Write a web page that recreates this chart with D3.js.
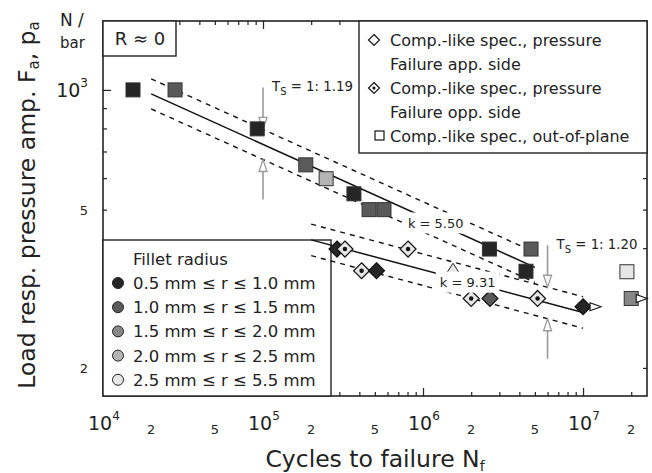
<!doctype html>
<html lang="en">
<head>
<meta charset="utf-8">
<title>S-N diagram</title>
<script src="https://d3js.org/d3.v7.min.js"></script>
<style>
  body { margin: 0; background: #fff; }
  text { font-family: 'DejaVu Sans', sans-serif; fill: #222; }
</style>
</head>
<body>
<div id="chart"></div>
<script>
// fillet radius classes and their grey levels
var filletLabels = ['0.5 mm \u2264 r \u2264 1.0 mm', '1.0 mm \u2264 r \u2264 1.5 mm', '1.5 mm \u2264 r \u2264 2.0 mm',
                    '2.0 mm \u2264 r \u2264 2.5 mm', '2.5 mm \u2264 r \u2264 5.5 mm'];
var filletColors = ['#262626', '#5a5a5a', '#878787', '#b4b4b4', '#e6e6e6'];

// out-of-plane specimens (squares): cycles, amplitude in N, fillet class, runout
var sqN      = [1.54e4, 2.82e4, 9.2e4, 1.85e5, 2.48e5, 3.7e5, 4.6e5, 5.7e5, 2.6e6, 4.4e6, 4.73e6, 1.88e7, 2.0e7];
var sqF      = [1000, 1000, 798, 648, 598, 548, 500, 500, 398, 350, 398, 349, 299];
var sqClass  = [0, 1, 0, 1, 3, 0, 1, 1, 0, 0, 1, 4, 2];
var sqRunout = [0, 0, 0, 0, 0, 0, 0, 0, 0, 0, 0, 0, 1];

// pressure specimens (diamonds): cycles, amplitude in bar, class, failure opposite side, runout
var diaN      = [2.9e5, 3.25e5, 8.06e5, 4.13e5, 5.12e5, 2.0e6, 2.62e6, 5.2e6, 1.0e7];
var diaP      = [398, 398, 398, 351, 351, 299, 299, 299, 285];
var diaClass  = [0, 4, 4, 4, 0, 4, 1, 4, 0];
var diaOpp    = [0, 1, 1, 1, 0, 1, 0, 1, 0];
var diaRunout = [0, 0, 0, 0, 0, 0, 0, 0, 1];

// single triangle specimen
var triN = [1.54e6], triP = [350], triClass = [4];

// S-N curves: slope k, reference point, range of validity, scatter T_S
var curveK    = [5.50, 9.31];
var curveRefN = [2e4, 1.42e6];
var curveRefF = [977, 340];
var curveFrom = [2e4, 2e5];
var curveTo   = [5e6, 1e7];
var curveTs   = [1.19, 1.20];
var arrowN    = [1e5, 6e6];
var kLabelN   = [1.2e6, 1.9e6];

var xMajor = [1e4, 1e5, 1e6, 1e7];
var xMinorLabels = [2e4, 5e4, 2e5, 5e5, 2e6, 5e6, 2e7];

var width = 652, height = 473;
var L = 103, R = 647, T = 21, B = 396;

var svg = d3.select('#chart').append('svg')
    .attr('width', width).attr('height', height);

var x = d3.scaleLog().domain([1e4, 2.51e7]).range([L, R]);
var y = d3.scaleLog().domain([170, 1490]).range([B, T]);

var xMinor = [];
[1e4, 1e5, 1e6, 1e7].forEach(function(d) {
  for (var i = 2; i <= 9; i++) if (d * i < 2.51e7) xMinor.push(d * i);
});
var yMinor = [200, 300, 400, 500, 600, 700, 800, 900];

// inward ticks on all four sides
function ticks(axis, vals, size, tr) {
  svg.append('g').attr('transform', tr)
    .call(axis.tickValues(vals).tickSize(-size).tickFormat(''))
    .call(function(g) { g.select('.domain').remove(); g.selectAll('line').attr('stroke', '#222').attr('stroke-width', 1.2); });
}
ticks(d3.axisBottom(x), xMajor, 8, 'translate(0,' + B + ')');
ticks(d3.axisBottom(x), xMinor, 4, 'translate(0,' + B + ')');
ticks(d3.axisTop(x), xMajor, 8, 'translate(0,' + T + ')');
ticks(d3.axisTop(x), xMinor, 4, 'translate(0,' + T + ')');
ticks(d3.axisLeft(y), [1000], 8, 'translate(' + L + ',0)');
ticks(d3.axisLeft(y), yMinor, 4, 'translate(' + L + ',0)');
ticks(d3.axisRight(y), [1000], 8, 'translate(' + R + ',0)');
ticks(d3.axisRight(y), yMinor, 4, 'translate(' + R + ',0)');

svg.append('rect').attr('x', L).attr('y', T).attr('width', R - L).attr('height', B - T)
  .attr('fill', 'none').attr('stroke', '#222').attr('stroke-width', 1.6);

// tick labels
xMajor.forEach(function(d) {
  var t = svg.append('text').attr('x', x(d) - 15).attr('y', 430).style('font-size', '19px');
  t.append('tspan').text('10');
  t.append('tspan').attr('dy', -10).style('font-size', '12px').text(Math.round(Math.log10(d)));
});
xMinorLabels.forEach(function(d) {
  svg.append('text').attr('x', x(d)).attr('y', 434).attr('text-anchor', 'middle')
    .style('font-size', '13px').text(String(d).charAt(0));
});
var ty = svg.append('text').attr('x', 88).attr('y', y(1000) + 7).attr('text-anchor', 'end').style('font-size', '19px');
ty.append('tspan').text('10');
ty.append('tspan').attr('dy', -10).style('font-size', '12px').text('3');
[500, 200].forEach(function(d) {
  svg.append('text').attr('x', 88).attr('y', y(d) + 5).attr('text-anchor', 'end')
    .style('font-size', '13px').text(String(d).charAt(0));
});

// axis titles
var xt = svg.append('text').attr('x', 375).attr('y', 467).attr('text-anchor', 'middle').style('font-size', '23.5px');
xt.append('tspan').text('Cycles to failure N');
xt.append('tspan').attr('dy', 4).style('font-size', '14px').text('f');

var yt = svg.append('text').attr('transform', 'translate(35,205) rotate(-90)')
  .attr('text-anchor', 'middle').style('font-size', '23.5px');
yt.append('tspan').text('Load resp. pressure amp. F');
yt.append('tspan').attr('dy', 4).style('font-size', '15px').text('a');
yt.append('tspan').attr('dy', -4).text(', p');
yt.append('tspan').attr('dy', 4).style('font-size', '15px').text('a');

svg.append('text').attr('x', 60).attr('y', 26).style('font-size', '17px').text('N /');
svg.append('text').attr('x', 60).attr('y', 48).style('font-size', '15px').text('bar');

// R = 0 box
svg.append('rect').attr('x', L).attr('y', T).attr('width', 73).attr('height', 35)
  .attr('fill', '#fff').attr('stroke', '#222').attr('stroke-width', 1.4);
svg.append('text').attr('x', 140).attr('y', 45).attr('text-anchor', 'middle')
  .style('font-size', '18px').text('R \u2248 0');

// specimen type legend
svg.append('rect').attr('x', 359).attr('y', T).attr('width', R - 359).attr('height', 132)
  .attr('fill', '#fff').attr('stroke', '#222').attr('stroke-width', 1.4);
var legLines = ['Comp.-like spec., pressure', 'Failure app. side', 'Comp.-like spec., pressure',
                'Failure opp. side', 'Comp.-like spec., out-of-plane'];
legLines.forEach(function(s, i) {
  svg.append('text').attr('x', 390).attr('y', 46 + i * 24).style('font-size', '16px').text(s);
});

// fillet legend
svg.append('rect').attr('x', L).attr('y', 240).attr('width', 228).attr('height', B - 240)
  .attr('fill', '#fff').attr('stroke', '#222').attr('stroke-width', 1.4);
svg.append('text').attr('x', 133).attr('y', 265).style('font-size', '16.5px').text('Fillet radius');
filletLabels.forEach(function(s, i) {
  var cy = 283 + i * 24.2;
  svg.append('circle').attr('cx', 118).attr('cy', cy).attr('r', 5.5)
    .attr('fill', filletColors[i]).attr('stroke', '#222').attr('stroke-width', 1);
  svg.append('text').attr('x', 133).attr('y', cy + 6).style('font-size', '16.5px').text(s);
});

// legend symbols
function diamond(g, cx, cy, r, fill, dot) {
  g.append('path').attr('d', 'M' + cx + ',' + (cy - r) + 'L' + (cx + r) + ',' + cy + 'L' + cx + ',' + (cy + r) + 'L' + (cx - r) + ',' + cy + 'Z')
    .attr('fill', fill).attr('stroke', '#111').attr('stroke-width', 1.2);
  if (dot) g.append('circle').attr('cx', cx).attr('cy', cy).attr('r', r * 0.28).attr('fill', '#111');
}
diamond(svg, 374, 40, 5.5, '#fff', false);
diamond(svg, 374, 88, 5.5, '#fff', true);
svg.append('rect').attr('x', 375).attr('y', 131).attr('width', 9).attr('height', 9)
  .attr('fill', '#fff').attr('stroke', '#111').attr('stroke-width', 1.2);

// S-N lines with scatter bands
var line = d3.line().x(function(d) { return x(d[0]); }).y(function(d) { return y(d[1]); });
function curveF(i, n, f) { return f * curveRefF[i] * Math.pow(n / curveRefN[i], -1 / curveK[i]); }
curveK.forEach(function(k, i) {
  var s = Math.sqrt(curveTs[i]);
  [[1, null], [s, '5,5'], [1 / s, '5,5']].forEach(function(b) {
    svg.append('path')
      .datum([curveFrom[i], curveTo[i]].map(function(n) { return [n, curveF(i, n, b[0])]; }))
      .attr('d', line).attr('fill', 'none').attr('stroke', '#111')
      .attr('stroke-width', b[1] ? 1.4 : 1.5).attr('stroke-dasharray', b[1]);
  });
  // scatter arrows
  var ax = x(arrowN[i]);
  var yUp = y(curveF(i, arrowN[i], s)), yLo = y(curveF(i, arrowN[i], 1 / s));
  [[yUp - 42, yUp], [yLo + 40, yLo]].forEach(function(a) {
    var dir = a[1] > a[0] ? 1 : -1;
    svg.append('line').attr('x1', ax).attr('x2', ax).attr('y1', a[0]).attr('y2', a[1] - dir * 11)
      .attr('stroke', '#9a9a9a').attr('stroke-width', 1.6);
    svg.append('path').attr('d', 'M' + (ax - 4) + ',' + (a[1] - dir * 12) + 'L' + (ax + 4) + ',' + (a[1] - dir * 12) + 'L' + ax + ',' + a[1] + 'Z')
      .attr('fill', '#fff').attr('stroke', '#9a9a9a').attr('stroke-width', 1.3);
  });
  var tl = svg.append('text').attr('x', ax + 9).attr('y', yUp - 38).style('font-size', '13.3px');
  tl.append('tspan').text('T');
  tl.append('tspan').attr('dy', 4).style('font-size', '10px').text('S');
  tl.append('tspan').attr('dy', -4).text(' = 1: ' + curveTs[i].toFixed(2));
});

// markers
function runoutArrow(cx, cy) {
  svg.append('path').attr('d', 'M' + cx + ',' + (cy - 4) + 'L' + (cx + 11) + ',' + cy + 'L' + cx + ',' + (cy + 4) + 'Z')
    .attr('fill', '#fff').attr('stroke', '#111').attr('stroke-width', 1.1);
}
sqN.forEach(function(n, i) {
  var cx = x(n), cy = y(sqF[i]);
  svg.append('rect').attr('x', cx - 7).attr('y', cy - 7).attr('width', 14).attr('height', 14)
    .attr('fill', filletColors[sqClass[i]]).attr('stroke', '#333').attr('stroke-width', 1);
  if (sqRunout[i]) runoutArrow(cx + 5, cy);
});
diaN.forEach(function(n, i) {
  var cx = x(n), cy = y(diaP[i]);
  diamond(svg, cx, cy, 8, filletColors[diaClass[i]], diaOpp[i]);
  if (diaRunout[i]) runoutArrow(cx + 7, cy);
});
triN.forEach(function(n, i) {
  var cx = x(n), cy = y(triP[i]);
  svg.append('path').attr('d', 'M' + cx + ',' + (cy - 8) + 'L' + (cx + 9) + ',' + (cy + 6) + 'L' + (cx - 9) + ',' + (cy + 6) + 'Z')
    .attr('fill', filletColors[triClass[i]]).attr('stroke', '#222').attr('stroke-width', 1);
});

// slope labels on white background
curveK.forEach(function(k, i) {
  var cx = x(kLabelN[i]), cy = y(curveF(i, kLabelN[i], 1));
  var t = svg.append('text').attr('x', cx).attr('y', cy + 5).attr('text-anchor', 'middle')
    .style('font-size', '13px').text('k = ' + k.toFixed(2));
  var bb = t.node().getBBox();
  svg.insert('rect', function() { return t.node(); })
    .attr('x', bb.x - 4).attr('y', bb.y - 3).attr('width', bb.width + 8).attr('height', bb.height + 6)
    .attr('fill', '#fff');
});
</script>
</body>
</html>
